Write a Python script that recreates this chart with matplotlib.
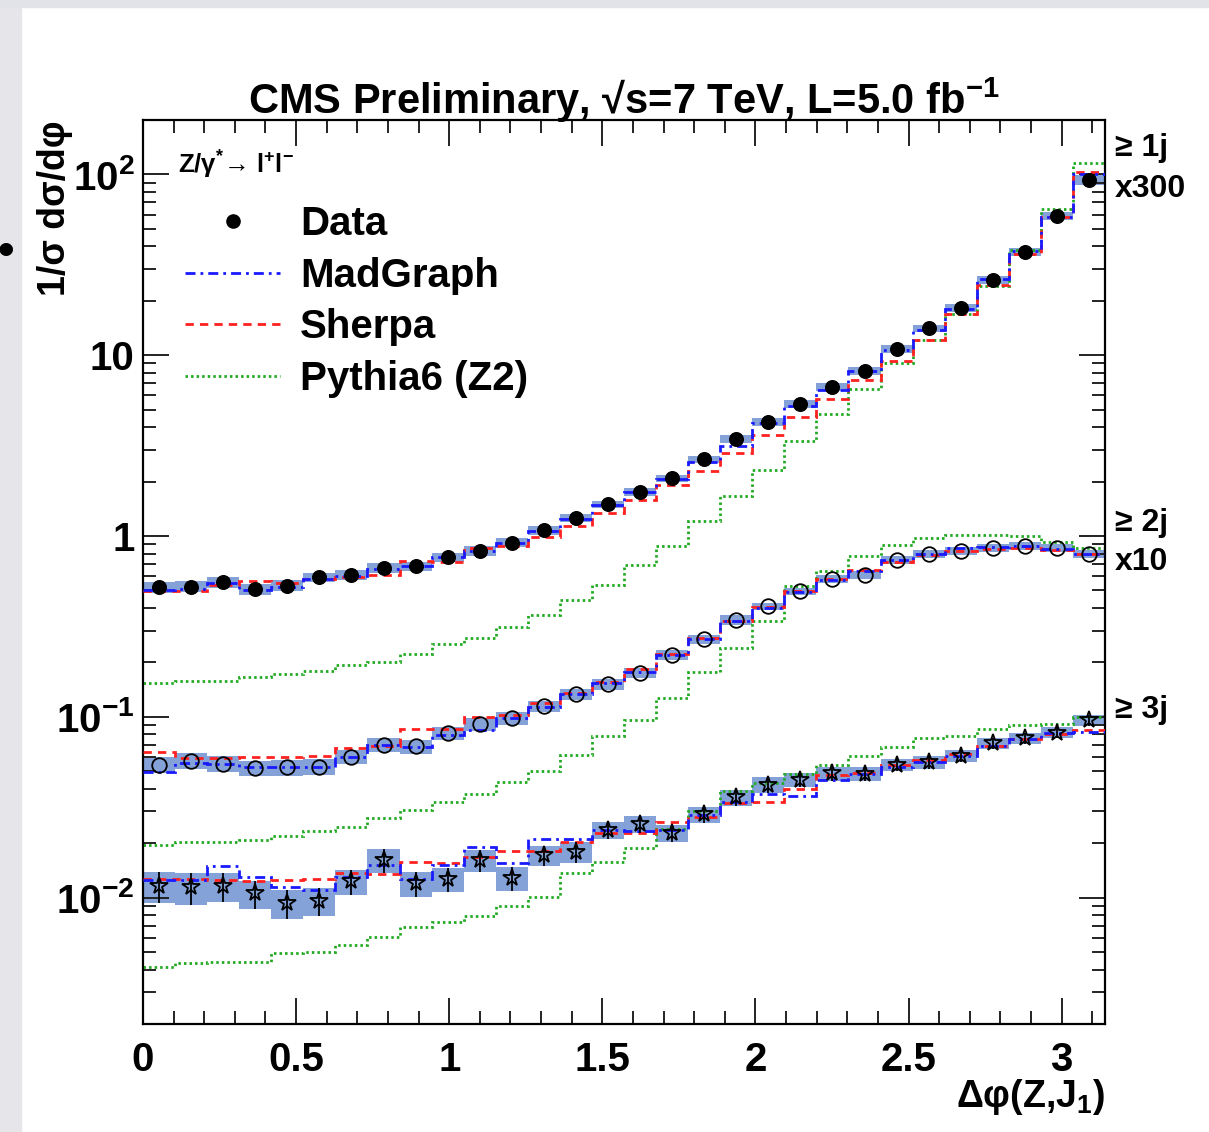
import matplotlib
matplotlib.use('Agg')
import matplotlib.pyplot as plt
import numpy as np
from matplotlib.lines import Line2D
from matplotlib.patches import Rectangle
from matplotlib.ticker import FixedLocator, FixedFormatter, LogLocator, NullFormatter, MultipleLocator

plt.rcParams['font.family'] = ['Liberation Sans', 'DejaVu Sans']
plt.rcParams['font.weight'] = 'bold'
plt.rcParams['mathtext.fontset'] = 'custom'
plt.rcParams['mathtext.rm'] = 'Liberation Sans:bold'
plt.rcParams['mathtext.bf'] = 'Liberation Sans:bold'
plt.rcParams['mathtext.it'] = 'Liberation Sans:bold'
plt.rcParams['mathtext.default'] = 'bf'

# 30 bins in delta phi, 0 .. pi
edges = np.linspace(0, np.pi, 31)

# values as drawn (>=1j x300, >=2j x10, >=3j x1)
data_1j = [0.52, 0.525, 0.557, 0.507, 0.532, 0.591, 0.610, 0.667, 0.681, 0.764,
           0.828, 0.920, 1.077, 1.265, 1.496, 1.758, 2.084, 2.655, 3.427, 4.295,
           5.355, 6.714, 8.23, 10.89, 14.06, 18.28, 26.0, 37.2, 58.9, 93.3]
mg_1j = [0.50, 0.51, 0.55, 0.50, 0.52, 0.58, 0.60, 0.66, 0.68, 0.77,
         0.83, 0.92, 1.06, 1.25, 1.48, 1.75, 2.07, 2.58, 3.16, 4.21,
         5.25, 6.45, 8.17, 10.7, 13.8, 18.0, 26.5, 37.5, 58.0, 100.0]
sherpa_1j = [0.494, 0.494, 0.534, 0.567, 0.55, 0.575, 0.59, 0.61, 0.731, 0.72,
             0.861, 0.878, 0.985, 1.13, 1.345, 1.59, 1.905, 2.29, 2.89, 3.60,
             4.57, 5.70, 7.26, 9.29, 12.2, 16.9, 24.5, 36.4, 58.5, 103.0]
pythia_1j = [0.154, 0.157, 0.157, 0.167, 0.172, 0.180, 0.194, 0.202, 0.223, 0.253,
             0.273, 0.312, 0.367, 0.445, 0.539, 0.695, 0.88, 1.21, 1.66, 2.33,
             3.35, 4.71, 6.54, 9.03, 12.1, 16.8, 24.3, 38.0, 64.0, 116.0]
err_1j = [0.07, 0.07, 0.07, 0.07, 0.07, 0.06, 0.06, 0.06, 0.06, 0.06,
          0.06, 0.06, 0.06, 0.05, 0.05, 0.05, 0.05, 0.05, 0.05, 0.05,
          0.05, 0.05, 0.05, 0.05, 0.05, 0.05, 0.05, 0.05, 0.05, 0.06]

data_2j = [0.0542, 0.0571, 0.0549, 0.052, 0.0526, 0.053, 0.0603, 0.070, 0.0686, 0.0813,
           0.0912, 0.0984, 0.115, 0.134, 0.152, 0.1746, 0.220, 0.269, 0.344, 0.408,
           0.494, 0.579, 0.607, 0.741, 0.797, 0.824, 0.861, 0.878, 0.855, 0.80]
mg_2j = [0.0498, 0.0556, 0.055, 0.053, 0.053, 0.053, 0.060, 0.070, 0.068, 0.079,
         0.085, 0.098, 0.113, 0.134, 0.153, 0.176, 0.22, 0.27, 0.34, 0.40,
         0.49, 0.57, 0.64, 0.74, 0.80, 0.86, 0.87, 0.88, 0.85, 0.80]
sherpa_2j = [0.064, 0.059, 0.059, 0.060, 0.060, 0.061, 0.067, 0.069, 0.0855, 0.0855,
             0.0995, 0.103, 0.119, 0.135, 0.155, 0.185, 0.223, 0.273, 0.337, 0.405,
             0.494, 0.579, 0.652, 0.716, 0.789, 0.831, 0.849, 0.861, 0.834, 0.80]
pythia_2j = [0.0196, 0.0203, 0.0203, 0.0208, 0.0218, 0.0233, 0.0245, 0.0275, 0.0305, 0.034,
             0.0375, 0.0435, 0.050, 0.0615, 0.078, 0.0963, 0.127, 0.176, 0.240, 0.337,
             0.53, 0.64, 0.78, 0.89, 0.97, 1.01, 1.01, 1.0, 0.93, 0.86]
err_2j = [0.10, 0.10, 0.10, 0.10, 0.10, 0.10, 0.09, 0.09, 0.09, 0.08,
          0.08, 0.08, 0.07, 0.07, 0.07, 0.06, 0.06, 0.06, 0.06, 0.05,
          0.05, 0.05, 0.05, 0.05, 0.05, 0.05, 0.05, 0.05, 0.05, 0.05]

data_3j = [0.0116, 0.0114, 0.0116, 0.01054, 0.00929, 0.0096, 0.01233, 0.01614, 0.0120, 0.0127,
           0.0161, 0.01277, 0.01718, 0.01794, 0.02366, 0.02547, 0.0227, 0.0289, 0.0359, 0.0420,
           0.045, 0.0487, 0.0485, 0.0542, 0.0559, 0.0608, 0.0715, 0.0762, 0.0819, 0.0962]
mg_3j = [0.0125, 0.0125, 0.0149, 0.013, 0.0114, 0.011, 0.013, 0.0151, 0.0127, 0.0151,
         0.0191, 0.0155, 0.021, 0.021, 0.0237, 0.0233, 0.0237, 0.0288, 0.034, 0.0374,
         0.0365, 0.045, 0.048, 0.053, 0.056, 0.061, 0.069, 0.075, 0.081, 0.082]
sherpa_3j = [0.01265, 0.01265, 0.0125, 0.0124, 0.0125, 0.01275, 0.0136, 0.0135, 0.0158, 0.0155,
             0.0167, 0.0180, 0.0180, 0.0204, 0.0227, 0.0227, 0.0262, 0.028, 0.0333, 0.034,
             0.040, 0.0477, 0.0487, 0.054, 0.058, 0.062, 0.069, 0.075, 0.080, 0.085]
pythia_3j = [0.00412, 0.00434, 0.00443, 0.0044, 0.00494, 0.005, 0.00546, 0.00607, 0.0069, 0.00734,
             0.00789, 0.00897, 0.0101, 0.0136, 0.0158, 0.0188, 0.0241, 0.030, 0.039, 0.043,
             0.048, 0.054, 0.061, 0.068, 0.076, 0.078, 0.0855, 0.090, 0.0915, 0.100]
err_3j = [0.20, 0.20, 0.18, 0.18, 0.18, 0.18, 0.16, 0.15, 0.16, 0.15,
          0.14, 0.15, 0.13, 0.13, 0.11, 0.11, 0.11, 0.10, 0.10, 0.10,
          0.09, 0.09, 0.09, 0.08, 0.08, 0.08, 0.07, 0.07, 0.07, 0.07]

labels = ['Data', 'MadGraph', 'Sherpa', 'Pythia6 (Z2)']

c_mg = '#1a1aff'
c_sh = '#ff2020'
c_py = '#22aa22'
c_box = '#84a2d8'
ls_mg = (0, (3.6, 1.8, 1.0, 1.8))
ls_sh = (0, (3.0, 2.2))
ls_py = (0, (0.9, 1.1))
LW = 2.0


def main():
	fig = plt.figure(figsize=(12.09, 11.32), dpi=100)
	fig.patch.set_facecolor('white')
	# slide-screenshot border
	fig.patches.append(Rectangle((0, 0), 21 / 1209, 1, transform=fig.transFigure,
								 color='#e6e6ea', zorder=0))
	fig.patches.append(Rectangle((0, 1 - 7 / 1132), 1, 7 / 1132, transform=fig.transFigure,
								 color='#e2e3e8', zorder=0))
	fig.text(-0.002, 1 - 253 / 1132, '\u2022', fontsize=34, va='center', ha='left', color='black')

	ax = fig.add_axes([143 / 1209, 108 / 1132, 962 / 1209, 904 / 1132])
	centers = 0.5 * (edges[:-1] + edges[1:])
	width = edges[1] - edges[0]

	sets = [
		(data_1j, mg_1j, sherpa_1j, pythia_1j, err_1j, False, dict(marker='o', mfc='black', ms=9.5)),
		(data_2j, mg_2j, sherpa_2j, pythia_2j, err_2j, False, dict(marker='o', mfc='none', ms=10.5)),
		(data_3j, mg_3j, sherpa_3j, pythia_3j, err_3j, True, dict(marker='*', mfc='none', ms=13)),
	]

	for dat, mg, sh, py, err, bars, mk in sets:
		dat = np.array(dat)
		err = np.array(err)
		ax.bar(centers, 2 * err * dat, bottom=dat * (1 - err), width=width,
			   color=c_box, edgecolor='none', zorder=1)
		ax.stairs(py, edges, baseline=None, color=c_py, lw=LW, linestyle=ls_py, zorder=2)
		ax.stairs(sh, edges, baseline=None, color=c_sh, lw=LW, linestyle=ls_sh, zorder=3)
		ax.stairs(mg, edges, baseline=None, color=c_mg, lw=LW, linestyle=ls_mg, zorder=4)
		if bars:
			ax.errorbar(centers, dat, yerr=err * dat, fmt='none', ecolor='black',
						elinewidth=1.3, capsize=0, zorder=5)
		ax.plot(centers, dat, linestyle='none', mec='black', mew=1.3, zorder=6, **mk)

	ax.set_xlim(0, np.pi)
	ax.set_yscale('log')
	ax.set_ylim(0.002, 200)

	ax.xaxis.set_major_locator(FixedLocator([0, 0.5, 1, 1.5, 2, 2.5, 3]))
	ax.xaxis.set_major_formatter(FixedFormatter(['0', '0.5', '1', '1.5', '2', '2.5', '3']))
	ax.xaxis.set_minor_locator(MultipleLocator(0.1))
	ax.yaxis.set_major_locator(FixedLocator([0.01, 0.1, 1, 10, 100]))
	ax.yaxis.set_major_formatter(FixedFormatter(['10$^{-2}$', '10$^{-1}$', '1', '10', '10$^{2}$']))
	ax.yaxis.set_minor_locator(LogLocator(base=10, subs=np.arange(2, 10), numticks=20))
	ax.yaxis.set_minor_formatter(NullFormatter())

	ax.tick_params(which='both', direction='in', top=True, right=True, width=1.4, color='#222222')
	ax.tick_params(which='major', length=19, labelsize=29)
	ax.tick_params(which='minor', length=9.5)
	ax.tick_params(axis='x', which='major', pad=12)
	ax.tick_params(axis='y', which='major', pad=6)
	for s in ax.spines.values():
		s.set_linewidth(1.6)

	handles = [
		Line2D([], [], marker='o', color='black', linestyle='none', ms=9.5),
		Line2D([], [], color=c_mg, lw=LW, linestyle=ls_mg),
		Line2D([], [], color=c_sh, lw=LW, linestyle=ls_sh),
		Line2D([], [], color=c_py, lw=LW, linestyle=ls_py),
	]
	ax.legend(handles, labels, loc='upper left', bbox_to_anchor=(0.044, 0.906),
			  frameon=False, fontsize=29, handlelength=2.35, handletextpad=0.5,
			  labelspacing=0.34, borderpad=0, borderaxespad=0)

	fig.text(178 / 1209, 1 - 165 / 1132, 'Z/\u03b3$^{*}$\u2192 l$^{+}$l$^{-}$', fontsize=18.5,
			 va='center', ha='left')
	fig.text(624 / 1209, 1 - 114 / 1132, 'CMS Preliminary, \u221as=7 TeV, L=5.0 fb$^{-1}$',
			 fontsize=30, ha='center', va='baseline')
	fig.text(55 / 1209, 1 - 120 / 1132, '1/\u03c3 d\u03c3/d\u03c6', fontsize=27,
			 rotation=90, ha='center', va='top')
	fig.text(1105 / 1209, 1 - 1077 / 1132, '\u0394\u03c6(Z,J$_{1}$)', fontsize=27,
			 ha='right', va='top')

	for txt, ypx in [('\u2265 1j', 148), ('x300', 189), ('\u2265 2j', 523), ('x10', 562), ('\u2265 3j', 710)]:
		fig.text(1115 / 1209, 1 - ypx / 1132, txt, fontsize=23, ha='left', va='center')

	fig.savefig('out.png', dpi=100)


if __name__ == '__main__':
	main()
